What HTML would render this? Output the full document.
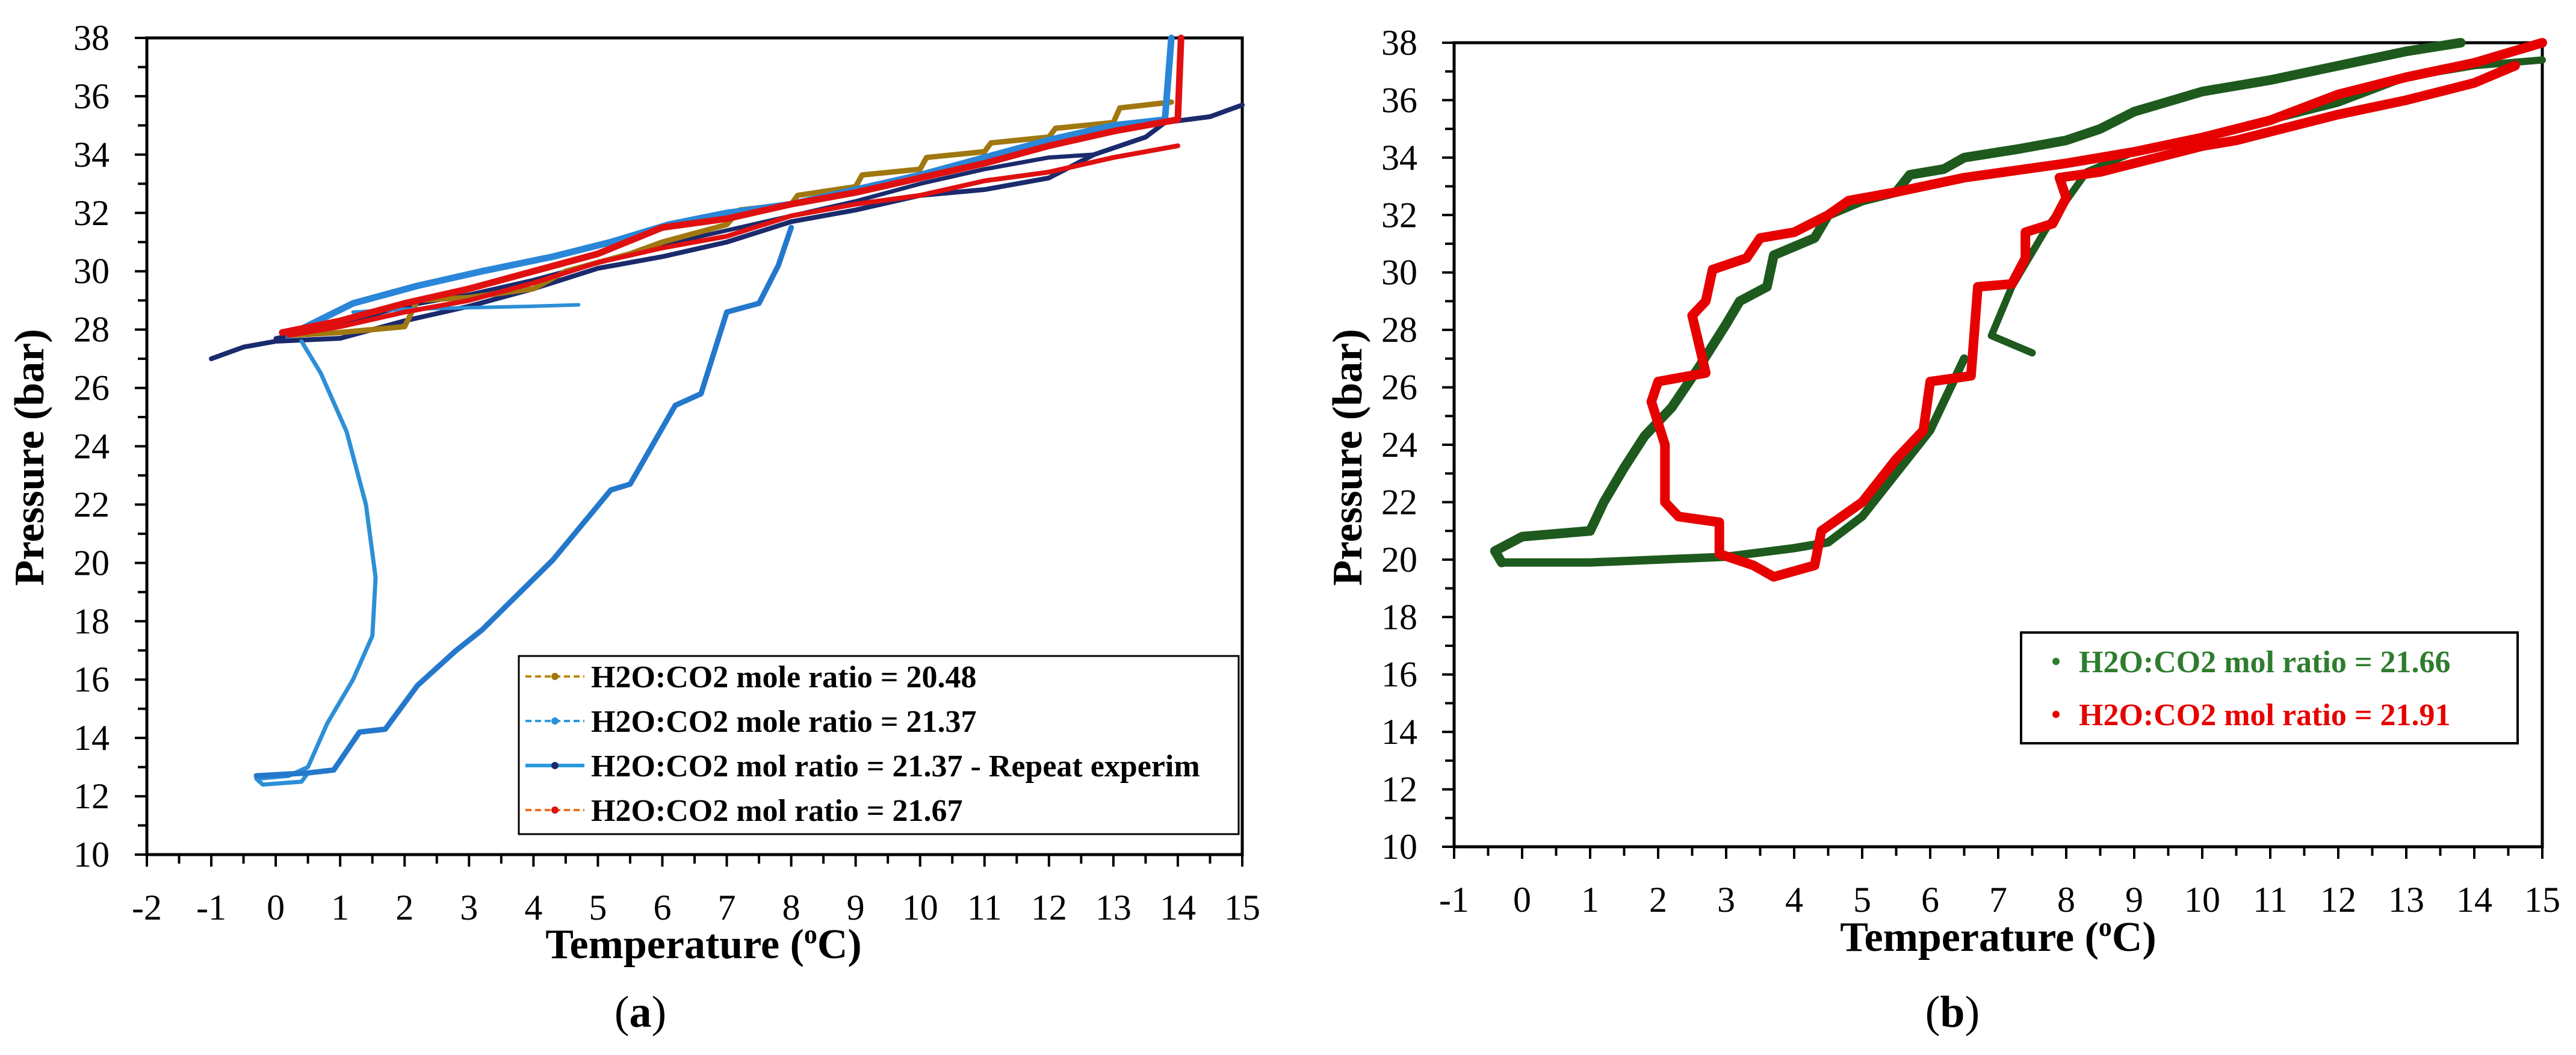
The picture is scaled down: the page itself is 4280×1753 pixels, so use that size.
<!DOCTYPE html>
<html><head><meta charset="utf-8"><style>
body{margin:0;background:#fff}
svg{display:block;font-family:"Liberation Serif",serif}
</style></head><body>
<svg id="fig" width="4280" height="1753" viewBox="0 0 4280 1753" xmlns="http://www.w3.org/2000/svg">
<rect width="4280" height="1753" fill="#fff"/>
<g id="pa"></g>
<g id="pb"></g>
</svg>
<script>
// Panel a data [T, P]
const aGold=[[0.2,27.8],[1,27.9],[2,28.1],[2.2,29],[3,29.1],[4,29.4],[4.5,30],[5.5,30.6],[6,31],[7,31.6],[7.2,32.1],[8,32.3],[8.1,32.6],[9,32.9],[9.1,33.3],[10,33.5],[10.1,33.9],[11,34.1],[11.1,34.4],[12,34.6],[12.1,34.9],[13,35.1],[13.1,35.6],[13.9,35.8]];
const aBlueDashUpper=[[1.2,28.6],[2,28.7],[3,28.75],[4,28.8],[4.7,28.85]];
const aBlueDashLoop=[[0.4,27.6],[0.7,26.5],[1.1,24.5],[1.4,22],[1.55,19.5],[1.5,17.5],[1.2,16],[0.8,14.5],[0.5,13],[0.2,12.7],[-0.3,12.6],[-0.2,12.4],[0.4,12.5],[0.5,12.8]];
const aBlueSolid=[[0.2,27.8],[1.2,28.9],[2.2,29.5],[3.2,30],[4.3,30.5],[5.2,31],[6.1,31.6],[7,32],[8,32.3],[9,32.8],[10,33.3],[11,33.9],[12,34.5],[13,35],[13.8,35.2],[13.9,38]];
const aBlueLoop=[[-0.3,12.7],[0.5,12.8],[0.9,12.9],[1.3,14.2],[1.7,14.3],[2.2,15.8],[2.8,17],[3.2,17.7],[4.3,20.1],[5.2,22.5],[5.5,22.7],[6.2,25.4],[6.6,25.8],[7,28.6],[7.5,28.9],[7.8,30.2],[8,31.5]];
const aNavy=[[-1,27],[-0.5,27.4],[0,27.6],[1,27.7],[2,28.3],[3,28.8],[4,29.4],[5,30.1],[6,30.5],[7,31],[8,31.7],[9,32.1],[10,32.6],[11,32.8],[12,33.2],[12.7,34],[13.5,34.6],[13.8,35.1],[14.5,35.3],[15,35.7]];
const aNavy2=[[0,27.7],[1,28.2],[2,28.8],[3,29.2],[4,29.7],[5,30.3],[6,30.9],[7,31.4],[8,31.9],[9,32.4],[10,33],[11,33.5],[12,33.9],[12.7,34]];
const aRedUpper=[[0.1,27.9],[1,28.3],[2,28.9],[3,29.4],[4,30],[5,30.6],[6,31.5],[7,31.8],[8,32.3],[9,32.7],[10,33.2],[11,33.7],[12,34.3],[13,34.8],[14,35.2],[14.05,38]];
const aRedLower=[[0.2,27.8],[1,28.1],[2,28.6],[3,29],[4,29.6],[5,30.3],[6,30.8],[7,31.2],[8,31.9],[9,32.3],[10,32.6],[11,33.1],[12,33.4],[13,33.9],[14,34.3]];
// Panel b data
const bGreenLower=[[-0.3,19.9],[1,19.9],[2,20],[3,20.1],[4,20.4],[4.5,20.6],[5,21.5],[5.5,23],[6,24.5],[6.5,27]];
const bGreenRight=[[7.5,27.2],[6.9,27.8],[7.2,29.5],[7.7,31.5],[8,32.5],[8.3,33.5],[9,34.2],[10,34.7],[11,35.3],[12,35.9],[13,36.8],[14,37.2],[15,37.4]];
const bGreenLeft=[[-0.3,19.9],[-0.4,20.3],[0,20.8],[1,21],[1.2,22],[1.5,23.2],[1.8,24.3],[2.2,25.3],[2.6,26.7],[3,28.2],[3.2,29],[3.6,29.5],[3.7,30.6],[4.3,31.2],[4.5,32],[5,32.5],[5.5,32.8],[5.7,33.4],[6.2,33.6],[6.5,34],[7.3,34.3],[8,34.6],[8.5,35],[9,35.6],[10,36.3],[11,36.7],[12,37.2],[13,37.7],[13.8,38]];
const bRed=[[15,38],[14,37.3],[13,36.8],[12,36.2],[11,35.3],[10,34.7],[9,34.2],[8,33.8],[6.5,33.3],[5.5,32.8],[4.8,32.5],[4.5,32],[4,31.4],[3.5,31.2],[3.3,30.5],[2.8,30.1],[2.7,29],[2.5,28.5],[2.6,27.5],[2.7,26.5],[2,26.2],[1.9,25.5],[2.1,24],[2.1,22],[2.3,21.5],[2.9,21.3],[2.9,20.2],[3.4,19.8],[3.7,19.4],[4.3,19.8],[4.4,21],[5,22],[5.5,23.5],[5.9,24.5],[6,26.2],[6.6,26.4],[6.7,29.5],[7.2,29.6],[7.4,30.5],[7.4,31.4],[7.8,31.7],[8,32.6],[7.9,33.3],[8.5,33.5],[9,33.8],[10,34.4],[10.5,34.6],[11,34.9],[12,35.5],[13,36],[14,36.6],[14.6,37.2]];
const aXTicks=[-2,-1,0,1,2,3,4,5,6,7,8,9,10,11,12,13,14,15];
const bXTicks=[-1,0,1,2,3,4,5,6,7,8,9,10,11,12,13,14,15];
const yTicks=[10,12,14,16,18,20,22,24,26,28,30,32,34,36,38];

const NS="http://www.w3.org/2000/svg";
function mk(parent,tag,attrs,text){const e=document.createElementNS(NS,tag);for(const k in attrs)e.setAttribute(k,attrs[k]);if(text!==undefined)e.textContent=text;parent.appendChild(e);return e;}

function axes(g,L,R,T,B,x0,x1,xt,labRight){
  const sx=v=>L+(v-x0)/(x1-x0)*(R-L);
  const sy=v=>B-(v-10)/28*(B-T);
  const box=mk(g,'rect',{x:L,y:T,width:R-L,height:B-T,fill:'none',stroke:'#000','stroke-width':5});
  
  
  for(let v=10;v<=38;v++){
    const maj=v%2===0;
    mk(g,'line',{x1:L-(maj?20:15),x2:L,y1:sy(v),y2:sy(v),stroke:'#000','stroke-width':4});
  }
  yTicks.forEach(v=>{
    const t=mk(g,'text',{x:labRight,y:sy(v)+20,'font-size':60,'text-anchor':'end'},String(v));
    
    
  });
  for(let v=x0;v<=x1+1e-9;v+=0.5){
    const maj=Math.abs(v-Math.round(v))<1e-9;
    mk(g,'line',{x1:sx(v),x2:sx(v),y1:B,y2:B+(maj?20:15),stroke:'#000','stroke-width':4});
  }
  xt.forEach(v=>{
    const t=mk(g,'text',{x:sx(v),y:B+108,'font-size':60,'text-anchor':'middle'},String(v));
    
    
  });
  return {sx,sy};
}
function series(g,s,data,color,w,name,dash){
  const p=mk(g,'polyline',{points:data.map(d=>s.sx(d[0])+','+s.sy(d[1])).join(' '),fill:'none',stroke:color,'stroke-width':w,'stroke-linejoin':'round','stroke-linecap':'round'});
  if(dash)p.setAttribute('stroke-dasharray',dash);
  
  
}
function titles(g,cx,cy,yx,yy,lab,lx,ly){
  const xt=mk(g,'text',{x:cx,y:cy,'font-size':70,'font-weight':'bold','text-anchor':'middle'});
  xt.innerHTML='Temperature (<tspan font-size="44" dy="-25">o</tspan><tspan dy="25">C)</tspan>';
  
  
  const yt=mk(g,'text',{x:0,y:0,'font-size':70,'font-weight':'bold','text-anchor':'middle',transform:`translate(${yx},${yy}) rotate(-90)`},'Pressure (bar)');
  
  
  const pl=mk(g,'text',{x:lx,y:ly,'font-size':74,'text-anchor':'middle'});
  pl.innerHTML='(<tspan font-weight="bold">'+lab+'</tspan>)';
  
  
}

// Panel A
const ga=document.getElementById('pa');
const sa=axes(ga,244,2064,63,1420,-2,15,aXTicks,182);
series(ga,sa,aNavy,'#1a2a6c',8,'series-navy');
series(ga,sa,aNavy2,'#1a2a6c',7,'series-navy-2');
series(ga,sa,aGold,'#a07810',9,'series-20-48');
series(ga,sa,aBlueDashUpper,'#2d8fd6',6,'series-21-37-upper');
series(ga,sa,aBlueDashLoop,'#2d8fd6',7,'series-21-37-loop');
series(ga,sa,aBlueLoop,'#2478cc',9,'series-repeat-loop');
series(ga,sa,aBlueSolid,'#2a86d8',11,'series-repeat');
series(ga,sa,aRedLower,'#e01010',8,'series-21-67-lower');
series(ga,sa,aRedUpper,'#e01010',11,'series-21-67-upper');
titles(ga,1169,1592,72,760,'a',1064,1706);
// Legend A
const la=mk(ga,'g',{});


mk(la,'rect',{x:862,y:1090,width:1196,height:296,fill:'#fff',stroke:'#000','stroke-width':3});
const legA=[['H2O:CO2 mole ratio = 20.48','#c08a10','#a07810','10 6'],['H2O:CO2 mole ratio = 21.37','#2d9ae0','#2d8fd6','10 6'],['H2O:CO2 mol ratio = 21.37 - Repeat experim','#2a9ae0','#1a2a6c',''],['H2O:CO2 mol ratio = 21.67','#f07020','#e01010','10 6']];
legA.forEach((e,i)=>{
  const y=1124+i*74;
  const it=mk(la,'g',{});
  
  
  const ln=mk(it,'line',{x1:873,x2:971,y1:y,y2:y,stroke:e[1],'stroke-width':e[3]?4:6});
  if(e[3])ln.setAttribute('stroke-dasharray',e[3]);
  mk(it,'circle',{cx:922,cy:y,r:6,fill:e[2]});
  mk(it,'text',{x:982,y:y+18,'font-size':52,'font-weight':'bold'},e[0]);
});

// Panel B
const gb=document.getElementById('pb');
const sb=axes(gb,2416,4224,71,1407,-1,15,bXTicks,2355);
series(gb,sb,bGreenLower,'#1e5a1e',14,'series-21-66-lower');
series(gb,sb,bGreenRight,'#1e5a1e',12,'series-21-66-right');
series(gb,sb,bGreenLeft,'#1e5a1e',16,'series-21-66-left');
series(gb,sb,bRed,'#e60000',16,'series-21-91');
titles(gb,3320,1580,2262,760,'b',3244,1706);
const lb=mk(gb,'g',{});


mk(lb,'rect',{x:3358,y:1051,width:825,height:184,fill:'#fff',stroke:'#000','stroke-width':4});
[['H2O:CO2 mol ratio = 21.66','#2e7d2e',1099],['H2O:CO2 mol ratio = 21.91','#e60000',1187]].forEach(e=>{
  const it=mk(lb,'g',{});
  
  
  mk(it,'circle',{cx:3416,cy:e[2],r:6,fill:e[1]});
  mk(it,'text',{x:3454,y:e[2]+18,'font-size':52,'font-weight':'bold',fill:e[1]},e[0]);
});
</script>
</body></html>
